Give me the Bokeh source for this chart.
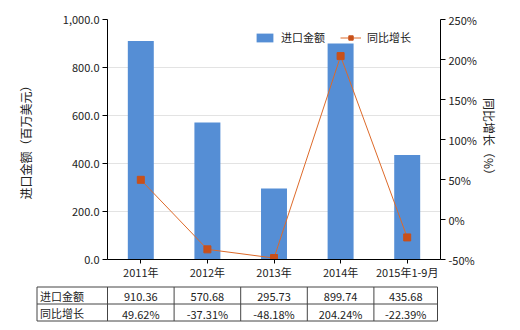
from bokeh.plotting import figure
from bokeh.models import (Range1d, LinearAxis, NumeralTickFormatter, PrintfTickFormatter,
                          FixedTicker, Legend, LegendItem, ColumnDataSource, FactorRange)
from bokeh.layouts import column
from bokeh.embed import file_html
from bokeh.resources import INLINE
from bokeh.core.properties import value

categories = ["2011年", "2012年", "2013年", "2014年", "2015年1-9月"]
import_values = [910.36, 570.68, 295.73, 899.74, 435.68]
growth_pct = [49.62, -37.31, -48.18, 204.24, -22.39]
import_labels = ["910.36", "570.68", "295.73", "899.74", "435.68"]
growth_labels = ["49.62%", "-37.31%", "-48.18%", "204.24%", "-22.39%"]
left_ticks = [0, 200, 400, 600, 800, 1000]
right_ticks = [-50, 0, 50, 100, 150, 200, 250]
row_names = ["进口金额", "同比增长"]

FONT = "Noto Sans CJK SC"
BAR = "#558ED5"
LINE = "#dd6a2a"
MARK = "#c8501a"

FL, FW, FT, FH = 107, 333, 19, 240
TOP_H = 282

p = figure(x_range=FactorRange(factors=categories), y_range=Range1d(0, 1000),
           frame_width=FW, frame_height=FH,
           min_border_left=FL, min_border_right=520 - FL - FW,
           min_border_top=FT, min_border_bottom=TOP_H - FT - FH,
           output_backend="svg", toolbar_location=None)
p.frame_align = False
p.outline_line_color = None
p.extra_y_ranges = {"pct": Range1d(-50, 250)}

src = ColumnDataSource(dict(cat=categories, val=import_values, pct=growth_pct))
bars = p.vbar(x="cat", top="val", width=0.39, source=src, color=BAR, line_color=None)
ln = p.line(x="cat", y="pct", source=src, y_range_name="pct", color=LINE, line_width=1)
pts = p.scatter(x="cat", y="pct", source=src, y_range_name="pct", marker="square",
                size=7, color=MARK, line_color=MARK)

# left axis
ya = p.yaxis[0]
ya.ticker = FixedTicker(ticks=left_ticks)
ya.formatter = NumeralTickFormatter(format="0,0.0")
ya.axis_label = "进口金额（百万美元）"
ya.axis_label_standoff = 26
ya.major_label_standoff = 3
p.ygrid.grid_line_color = "#e3e3e3"
p.xgrid.grid_line_color = None

ra = LinearAxis(y_range_name="pct", ticker=FixedTicker(ticks=right_ticks),
                formatter=PrintfTickFormatter(format="%d%%"),
                axis_label="同比增长（%）")
ra.axis_label_standoff = 1
ra.major_label_standoff = 3
p.add_layout(ra, "right")

for ax in p.axis:
    ax.axis_line_color = "black"
    ax.major_tick_line_color = "black"
    ax.major_tick_out = 5
    ax.major_tick_in = 0
    ax.minor_tick_line_color = None
    ax.major_label_text_font = FONT
    ax.major_label_text_font_size = "11px"
    ax.major_label_text_color = "#222222"
    ax.axis_label_text_font = FONT
    ax.axis_label_text_font_size = "12px"
    ax.axis_label_text_font_style = "normal"
    ax.axis_label_text_color = "#222222"
p.xaxis.major_label_standoff = 0
p.xaxis.major_tick_out = 4

legend = Legend(items=[LegendItem(label="进口金额", renderers=[bars]),
                       LegendItem(label="同比增长", renderers=[ln, pts])],
                orientation="horizontal", location=(147, 214),
                glyph_width=21, glyph_height=11, label_standoff=6, spacing=15,
                padding=0, margin=0, border_line_color=None, background_fill_alpha=0,
                label_text_font=FONT, label_text_font_size="11px",
                label_text_color="#222222", label_height=11)
p.add_layout(legend)

# table
t = figure(width=520, height=48, x_range=Range1d(0, 520), y_range=Range1d(48, 0),
           min_border=0, x_axis_location=None, y_axis_location=None,
           output_backend="svg", toolbar_location=None)
t.frame_align = False
t.outline_line_color = None
t.xgrid.grid_line_color = None
t.ygrid.grid_line_color = None

band = FW / len(categories)
x0 = 36.5
xs = [x0, FL] + [FL + band * (i + 1) for i in range(len(categories))]
xs[-1] = FL + FW - 3
ys = [4.5, 21.5, 38.5]
t.segment(x0=[x0] * 3, x1=[xs[-1]] * 3, y0=ys, y1=ys, color="#444444", line_width=1)
t.segment(x0=xs, x1=xs, y0=[ys[0]] * len(xs), y1=[ys[-1]] * len(xs), color="#444444", line_width=1)

cx = [(xs[i + 1] + xs[i + 2]) / 2 for i in range(len(categories))]
t.text(x=[x0 + 3] * 2, y=[(ys[0] + ys[1]) / 2, (ys[1] + ys[2]) / 2], text=row_names,
       text_font=value(FONT), text_font_size="11px", text_baseline="middle",
       text_align="left", text_color="#222222")
t.text(x=cx, y=[(ys[0] + ys[1]) / 2 + 1] * len(cx), text=import_labels,
       text_font=value(FONT), text_font_size="11px", text_baseline="middle",
       text_align="center", text_color="#222222")
t.text(x=cx, y=[(ys[1] + ys[2]) / 2 + 1] * len(cx), text=growth_labels,
       text_font=value(FONT), text_font_size="11px", text_baseline="middle",
       text_align="center", text_color="#222222")

layout = column(p, t, spacing=0)
open("out.html", "w").write(file_html(layout, INLINE))
